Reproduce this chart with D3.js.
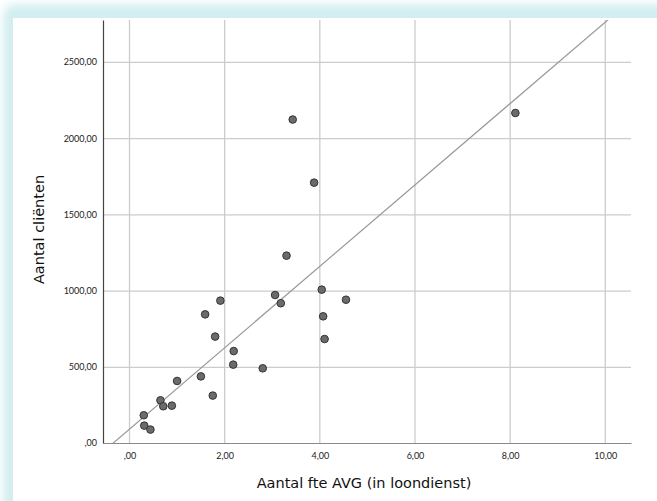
<!DOCTYPE html>
<html>
<head>
<meta charset="utf-8">
<script src="https://cdn.jsdelivr.net/npm/d3@7"></script>
<style>
  html, body { margin: 0; padding: 0; background: #ffffff; }
  svg { display: block; }
</style>
</head>
<body>
<svg id="chart" width="657" height="501"></svg>
<script>
// ---- data ----
const fteAVG = [0.30, 0.31, 0.44, 0.65, 0.71, 0.89, 1.00, 1.50, 1.59, 1.75, 1.80, 1.91, 2.19, 2.18, 2.80,
                3.43, 3.88, 3.30, 3.06, 3.18, 4.04, 4.55, 4.07, 4.10, 8.11];
const clienten = [182, 114, 88, 280, 241, 245, 407, 437, 844, 311, 698, 934, 603, 514, 490,
                  2122, 1708, 1229, 971, 917, 1006, 940, 831, 682, 2165];
const xTickValues = [0, 2, 4, 6, 8, 10];
const xTickLabels = [",00", "2,00", "4,00", "6,00", "8,00", "10,00"];
const yTickValues = [0, 500, 1000, 1500, 2000, 2500];
const yTickLabels = [",00", "500,00", "1000,00", "1500,00", "2000,00", "2500,00"];
const fitIntercept = 91;
const fitSlope = 267;
const xTitle = "Aantal fte AVG (in loondienst)";
const yTitle = "Aantal cliënten";

// ---- layout ----
const svg = d3.select("#chart");
const pL = 103, pR = 631, pT = 20, pB = 443;

const x = d3.scaleLinear().domain([-0.557, 10.54]).range([pL, pR]);
const y = d3.scaleLinear().domain([0, 2775]).range([pB, pT]);

// frame glow
const defs = svg.append("defs");
const f = defs.append("filter").attr("id", "blur").attr("x", "-10%").attr("y", "-10%").attr("width", "130%").attr("height", "130%");
f.append("feGaussianBlur").attr("stdDeviation", 4);
svg.append("rect").attr("x", 3).attr("y", 4).attr("width", 800).attr("height", 700).attr("rx", 12)
  .attr("fill", "#d3eef1").attr("filter", "url(#blur)");
svg.append("rect").attr("x", 13).attr("y", 18).attr("width", 700).attr("height", 600).attr("fill", "#ffffff");

const clip = defs.append("clipPath").attr("id", "plotclip");
clip.append("rect").attr("x", pL).attr("y", pT).attr("width", pR - pL).attr("height", pB - pT);

const fontFam = "Lato, 'DejaVu Sans', sans-serif";
const titleFam = "'DejaVu Sans', sans-serif";

// gridlines
svg.append("g").selectAll("line").data(yTickValues.filter(d => d > 0)).join("line")
  .attr("x1", pL).attr("x2", pR)
  .attr("y1", d => y(d) + 0.5).attr("y2", d => y(d) + 0.5)
  .attr("stroke", "#cccccc").attr("stroke-width", 1.3);
svg.append("g").selectAll("line").data(xTickValues).join("line")
  .attr("x1", d => x(d)).attr("x2", d => x(d))
  .attr("y1", pT).attr("y2", pB)
  .attr("stroke", "#cccccc").attr("stroke-width", 1.3);

// axes
const xAxis = d3.axisBottom(x).tickValues(xTickValues).tickSize(0).tickPadding(10)
  .tickFormat((d, i) => xTickLabels[i]);
const gx = svg.append("g").attr("transform", `translate(0,${pB})`).call(xAxis);
gx.select(".domain").attr("stroke", "#8a8a8a").attr("stroke-width", 1.2);
gx.selectAll("text").attr("font-family", fontFam).attr("font-size", 9).attr("fill", "#222");

const yAxis = d3.axisLeft(y).tickValues(yTickValues).tickSize(0).tickPadding(6)
  .tickFormat((d, i) => yTickLabels[i]);
const gy = svg.append("g").attr("transform", `translate(${pL},0)`).call(yAxis);
gy.select(".domain").attr("stroke", "#444").attr("stroke-width", 1.2);
gy.selectAll("text").attr("font-family", fontFam).attr("font-size", 9).attr("fill", "#222");

// fit line
const xd = x.domain();
svg.append("line")
  .attr("clip-path", "url(#plotclip)")
  .attr("x1", x(xd[0])).attr("y1", y(fitIntercept + fitSlope * xd[0]))
  .attr("x2", x(xd[1])).attr("y2", y(fitIntercept + fitSlope * xd[1]))
  .attr("stroke", "#999").attr("stroke-width", 1.2);

// points
svg.append("g").selectAll("circle").data(fteAVG).join("circle")
  .attr("cx", d => x(d))
  .attr("cy", (d, i) => y(clienten[i]))
  .attr("r", 3.8)
  .attr("fill", "#6b6b6b").attr("stroke", "#333").attr("stroke-width", 1);

// titles
svg.append("text").attr("x", 364).attr("y", 488)
  .attr("text-anchor", "middle").attr("font-family", titleFam).attr("font-size", 14.5)
  .attr("fill", "#111").text(xTitle);
svg.append("text").attr("transform", `translate(44,${(pT + pB) / 2 - 2}) rotate(-90)`)
  .attr("text-anchor", "middle").attr("font-family", titleFam).attr("font-size", 14.5)
  .attr("fill", "#111").text(yTitle);
</script>
</body>
</html>
